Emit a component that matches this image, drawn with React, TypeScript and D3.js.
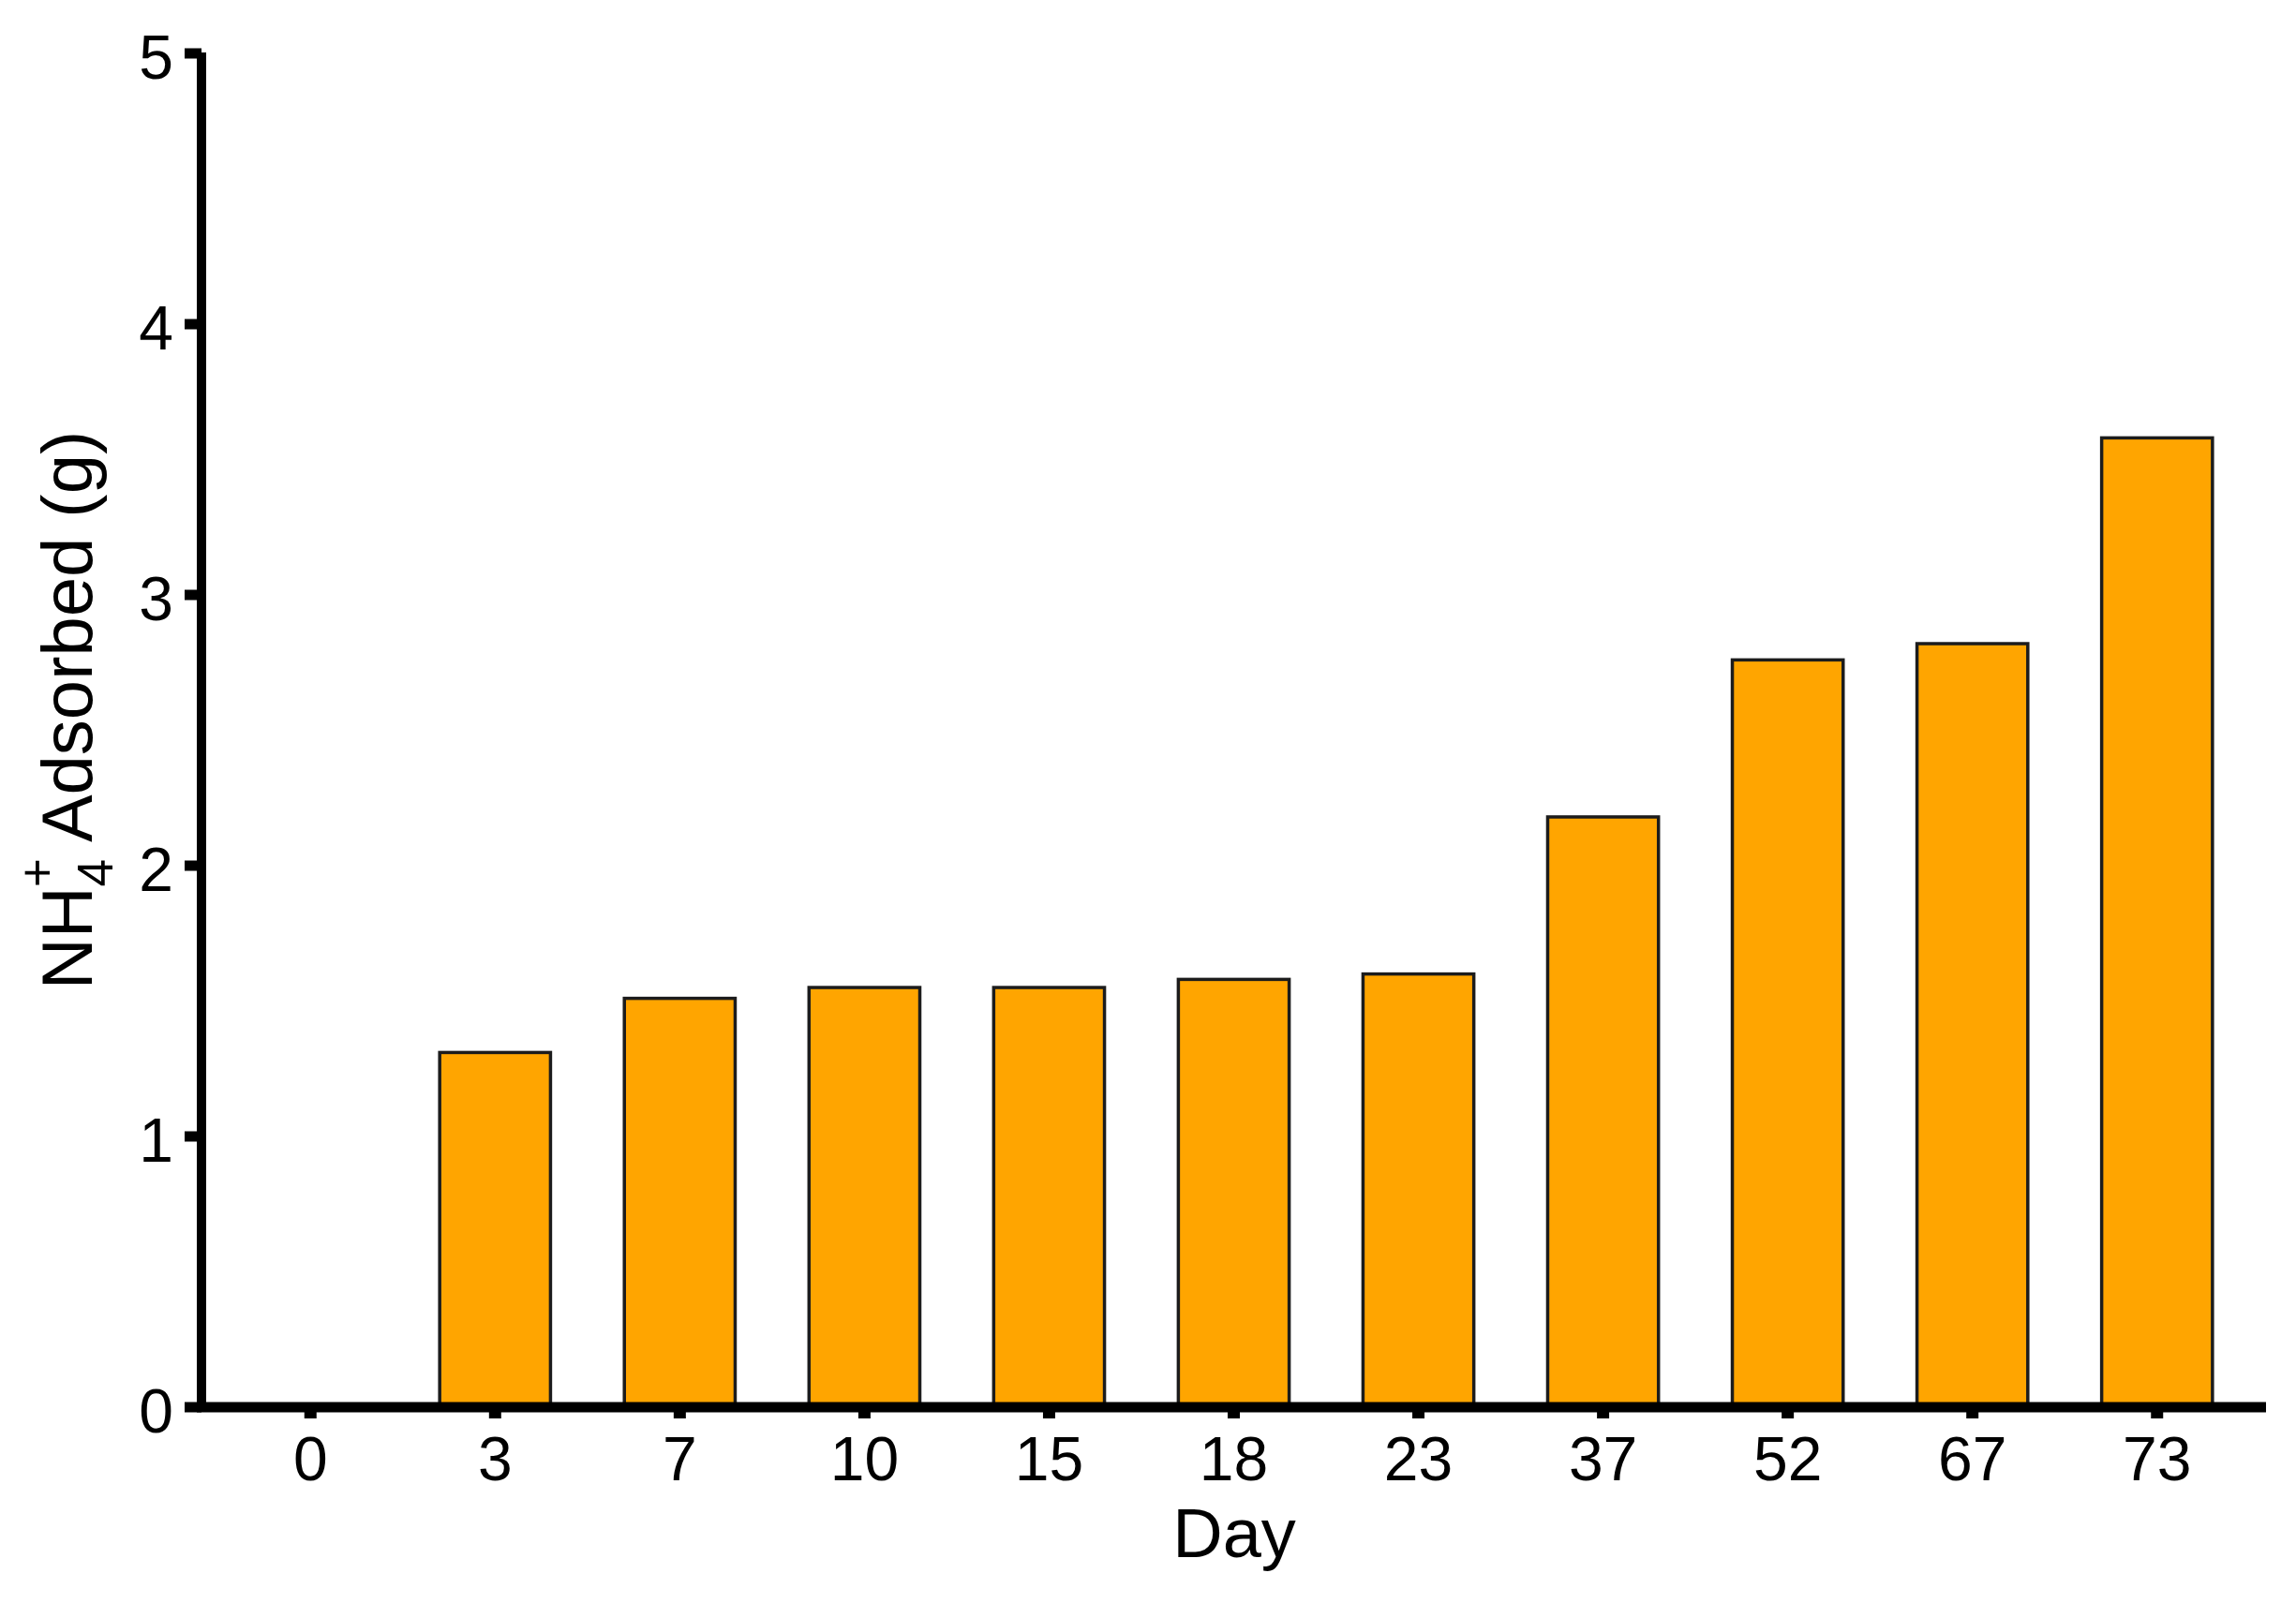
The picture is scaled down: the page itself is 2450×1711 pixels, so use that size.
import React from "react";
import * as d3 from "d3";

const days: string[] = ["0", "3", "7", "10", "15", "18", "23", "37", "52", "67", "73"];
const adsorbed: number[] = [0, 1.31, 1.51, 1.55, 1.55, 1.58, 1.6, 2.18, 2.76, 2.82, 3.58];
const yTicks: number[] = [0, 1, 2, 3, 4, 5];

const W = 2450;
const H = 1711;
const axisX = 215;
const plotRight = 2418;
const yTop = 57;
const yBottom = 1502;
const FONT = "'Liberation Sans', Arial, sans-serif";

export default function App() {
  const x = d3
    .scaleBand<string>()
    .domain(days)
    .range([axisX, plotRight])
    .paddingInner(0.4)
    .paddingOuter(0.29);
  const y = d3.scaleLinear().domain([0, 5]).range([yBottom, yTop]);

  return (
    <svg
      width={W}
      height={H}
      style={{ position: "absolute", left: 0, top: 0, background: "#fff" }}
      fontFamily={FONT}
    >
      <rect x={0} y={0} width={W} height={H} fill="#fff" />
      {/* bars */}
      {days.map((d, i) =>
        adsorbed[i] > 0 ? (
          <rect
            key={d}
            x={x(d)!}
            y={y(adsorbed[i])}
            width={x.bandwidth()}
            height={y(0) - y(adsorbed[i])}
            fill="#FFA500"
            stroke="#1c1c1c"
            strokeWidth={3.5}
          />
        ) : null
      )}
      {/* y axis */}
      <line x1={axisX} x2={axisX} y1={y(5) - 1} y2={y(0) + 5} stroke="#000" strokeWidth={10} />
      {yTicks.map((t) => (
        <g key={t}>
          <line x1={axisX - 18} x2={axisX} y1={y(t)} y2={y(t)} stroke="#000" strokeWidth={11} />
          <text
            x={185}
            y={y(t) + 27}
            textAnchor="end"
            fontSize={66}
            fill="#000"
          >
            {t}
          </text>
        </g>
      ))}
      {/* x axis */}
      <line x1={axisX - 5} x2={plotRight} y1={y(0)} y2={y(0)} stroke="#000" strokeWidth={11} />
      {days.map((d) => {
        const cx = x(d)! + x.bandwidth() / 2;
        return (
          <g key={d}>
            <line x1={cx} x2={cx} y1={y(0)} y2={y(0) + 12} stroke="#000" strokeWidth={13} />
            <text x={cx} y={1580} textAnchor="middle" fontSize={66} fill="#000">
              {d}
            </text>
          </g>
        );
      })}
      {/* x title */}
      <text x={1317} y={1662} textAnchor="middle" fontSize={74} fill="#000">
        Day
      </text>
      {/* y title */}
      <text
        transform={`translate(98, 758) rotate(-90)`}
        textAnchor="middle"
        fontSize={76}
        fill="#000"
      >
        <tspan>NH</tspan>
        <tspan fontSize={53} dy={22}>4</tspan>
        <tspan fontSize={53} dx={-30} dy={-62}>+</tspan>
        <tspan dy={40}> Adsorbed (g)</tspan>
      </text>
    </svg>
  );
}
